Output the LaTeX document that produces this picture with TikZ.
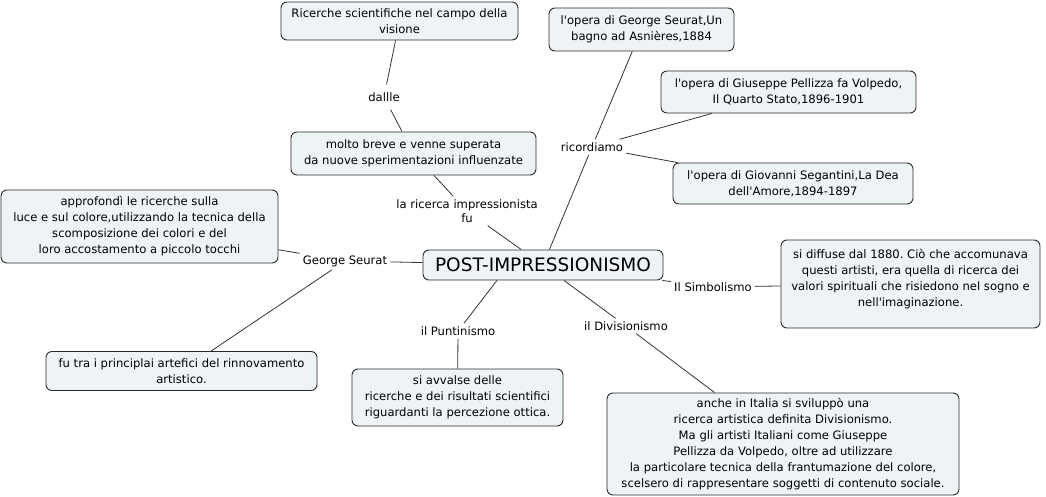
\documentclass[tikz,border=0pt]{standalone}
\usepackage{fontspec}
\setmainfont{DejaVu Sans}[Ligatures=TeXOff]
\usetikzlibrary{calc}
\frenchspacing
\definecolor{boxfill}{HTML}{EEF3F5}
\definecolor{boxline}{HTML}{2A2A2A}
\definecolor{linkline}{HTML}{333333}
\tikzset{
  cbox/.style={draw=boxline, line width=0.9pt, fill=boxfill, rounded corners=6pt,
    align=center, inner sep=0pt, font=\fontsize{11.6}{16}\selectfont},
  lbl/.style={inner sep=3pt, align=center, font=\fontsize{11.6}{14}\selectfont},
  link/.style={draw=linkline, line width=0.8pt},
}
\begin{document}
\begin{tikzpicture}[x=1pt,y=-1pt]
\useasboundingbox (0,0) rectangle (1046,497);
% boxes
\node[cbox, minimum width=237, minimum height=38] (ric) at (399.5,21) {Ricerche scientifiche nel campo della\\visione};
\node[cbox, minimum width=245, minimum height=43] (molto) at (413.5,153.5) {molto breve e venne superata\\da nuove sperimentazioni influenzate};
\node[cbox, minimum width=185, minimum height=43] (seurat) at (641.5,29.5) {l'opera di George Seurat,Un\\bagno ad Asnières,1884};
\node[cbox, minimum width=255, minimum height=42] (pell) at (788.5,92) {l'opera di Giuseppe Pellizza fa Volpedo,\\Il Quarto Stato,1896-1901};
\node[cbox, minimum width=240, minimum height=41] (seg) at (793,183.5) {l'opera di Giovanni Segantini,La Dea\\dell'Amore,1894-1897};
\node[cbox, minimum width=277, minimum height=73] (appr) at (139.5,226.5) {approfondì le ricerche sulla\\luce e sul colore,utilizzando la tecnica della\\scomposizione dei colori e del\\loro accostamento a piccolo tocchi};
\node[cbox, minimum width=240, minimum height=30, font=\fontsize{18.5}{20}\selectfont] (post) at (543,265) {POST-IMPRESSIONISMO};
\node[cbox, minimum width=259, minimum height=88] (simb) at (910.5,284) {si diffuse dal 1880. Ciò che accomunava\\questi artisti, era quella di ricerca dei\\valori spirituali che risiedono nel sogno e\\nell'imaginazione.\\[-3pt]};
\node[cbox, minimum width=271, minimum height=39] (futra) at (181.5,371) {fu tra i principlai artefici del rinnovamento\\artistico.};
\node[cbox, minimum width=211, minimum height=57] (avv) at (457.5,397.5) {si avvalse delle\\ricerche e dei risultati scientifici\\riguardanti la percezione ottica.};
\node[cbox, minimum width=352, minimum height=102] (anche) at (783,444) {anche in Italia si sviluppò una\\ricerca artistica definita Divisionismo.\\Ma gli artisti Italiani come Giuseppe\\Pellizza da Volpedo, oltre ad utilizzare\\la particolare tecnica della frantumazione del colore,\\scelsero di rappresentare soggetti di contenuto sociale.};
% linking phrases
\node[lbl, inner ysep=8pt] (dallle) at (384,97) {dallle};
\node[lbl] (laric) at (467,211) {la ricerca impressionista\\fu};
\node[lbl] (ricord) at (592,147) {ricordiamo};
\node[lbl] (gs) at (345,261) {George Seurat};
\node[lbl] (ilsimb) at (713,287) {Il Simbolismo};
\node[lbl] (punt) at (458,331) {il Puntinismo};
\node[lbl] (divis) at (626,326) {il Divisionismo};
% connectors
\draw[link] (ric) -- (dallle);
\draw[link] (dallle) -- (molto);
\draw[link] (molto) -- (laric);
\draw[link] (laric) -- (post);
\draw[link] (post) -- (ricord);
\draw[link] (ricord) -- (seurat);
\draw[link] (ricord) -- (pell);
\draw[link] (ricord) -- (seg);
\draw[link] (post) -- (gs);
\draw[link] (gs) -- (appr);
\draw[link] (gs) -- (futra);
\draw[link] (post) -- (ilsimb);
\draw[link] (ilsimb) -- (simb);
\draw[link] ([xshift=-46pt]post.south) -- (punt);
\draw[link] (punt) -- (avv);
\draw[link] (post) -- (divis);
\draw[link] (divis) -- (anche);
\end{tikzpicture}
\end{document}
